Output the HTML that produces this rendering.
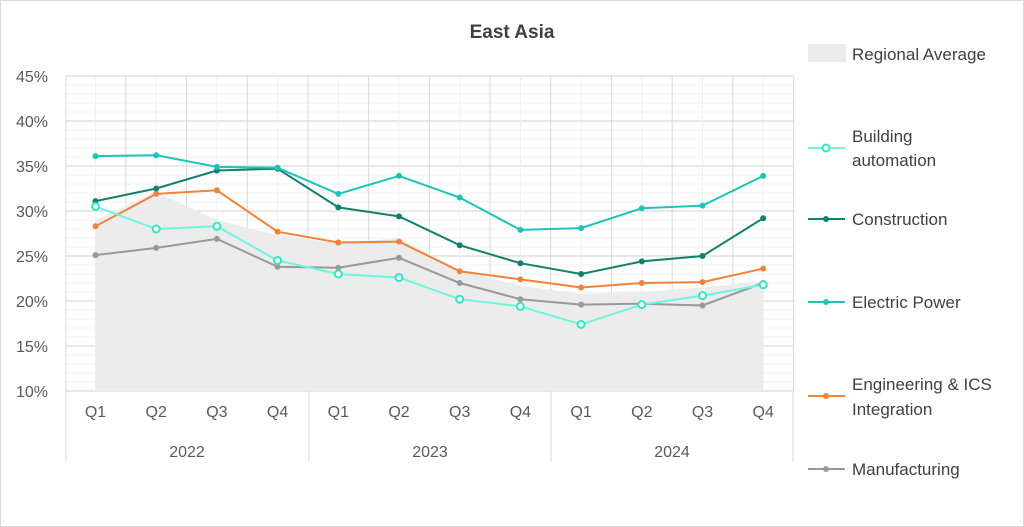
<!DOCTYPE html><html><head><meta charset="utf-8"><style>body{margin:0;background:#fff}svg{display:block;font-family:"Liberation Sans",sans-serif}</style></head><body>
<svg width="1024" height="527" viewBox="0 0 1024 527">
<rect x="0.5" y="0.5" width="1023" height="526" fill="#fff" stroke="#d9d9d9"/>
<text x="512" y="38" text-anchor="middle" font-size="19" font-weight="bold" fill="#404040">East Asia</text>
<g id="grid"></g>
<path id="area" fill="#ececec"/>
<g id="lines"></g>
<g fill="#595959" font-size="16">
<text x="48" y="82" text-anchor="end">45%</text><text x="48" y="127" text-anchor="end">40%</text><text x="48" y="172" text-anchor="end">35%</text><text x="48" y="217" text-anchor="end">30%</text><text x="48" y="262" text-anchor="end">25%</text><text x="48" y="307" text-anchor="end">20%</text><text x="48" y="352" text-anchor="end">15%</text><text x="48" y="397" text-anchor="end">10%</text>
<g id="xl" text-anchor="middle"></g>
<text x="187" y="457" text-anchor="middle">2022</text><text x="430" y="457" text-anchor="middle">2023</text><text x="672" y="457" text-anchor="middle">2024</text>
</g>
<g font-size="17" fill="#404040">
<rect x="808" y="44" width="38" height="18" fill="#ececec"/><text x="852" y="60">Regional Average</text>
<line x1="808" y1="148" x2="845" y2="148" stroke="#6ff5dd" stroke-width="2"/><circle cx="826" cy="148" r="3.5" fill="#fff" stroke="#2ee8c8" stroke-width="2"/><text x="852" y="142">Building</text><text x="852" y="166">automation</text>
<line x1="808" y1="219" x2="845" y2="219" stroke="#12806a" stroke-width="2"/><circle cx="826" cy="219" r="3" fill="#12806a"/><text x="852" y="225">Construction</text>
<line x1="808" y1="302" x2="845" y2="302" stroke="#1ec4b8" stroke-width="2"/><circle cx="826" cy="302" r="3" fill="#1ec4b8"/><text x="852" y="308">Electric Power</text>
<line x1="808" y1="396" x2="845" y2="396" stroke="#f0843a" stroke-width="2"/><circle cx="826" cy="396" r="3" fill="#f0843a"/><text x="852" y="390">Engineering &amp; ICS</text><text x="852" y="415">Integration</text>
<line x1="808" y1="469" x2="845" y2="469" stroke="#999" stroke-width="2"/><circle cx="826" cy="469" r="3" fill="#999"/><text x="852" y="475">Manufacturing</text>
</g>
</svg>
<script>
const ns="http://www.w3.org/2000/svg";
function el(p,t,a){const e=document.createElementNS(ns,t);for(const k in a)e.setAttribute(k,a[k]);document.getElementById(p).appendChild(e);return e;}
const X=i=>95.5+60.7*i, Y=v=>391-(v-10)*9;
for(let v=10;v<=45;v++){el("grid","line",{x1:66,x2:793,y1:Y(v),y2:Y(v),stroke:v%5==0?"#d9d9d9":"#f0f0f0","stroke-width":v%5==0?1.3:1});}
for(let i=0;i<12;i++){el("grid","line",{x1:X(i),x2:X(i),y1:76,y2:391,stroke:"#f0f0f0"});el("grid","line",{x1:X(i)+30.35,x2:X(i)+30.35,y1:76,y2:391,stroke:"#d9d9d9"});}
el("grid","line",{x1:66,x2:66,y1:76,y2:462,stroke:"#d9d9d9"});
[309,551,793].forEach(x=>el("grid","line",{x1:x,x2:x,y1:391,y2:462,stroke:"#d9d9d9"}));
el("grid","line",{x1:66,x2:793,y1:391,y2:391,stroke:"#d9d9d9"});
const q=["Q1","Q2","Q3","Q4"];
for(let i=0;i<12;i++){const t=el("xl","text",{x:X(i),y:417});t.textContent=q[i%4];}
const avg=[29,32.1,29,27.3,26.4,27,23.4,21.7,20.8,21,21.5,22.2];
let d="M"+X(0)+" "+Y(10);avg.forEach((v,i)=>d+=" L"+X(i)+" "+Y(v));d+=" L"+X(11)+" "+Y(10)+"Z";
document.getElementById("area").setAttribute("d",d);
const S=[
["#999",[25.1,25.9,26.9,23.8,23.7,24.8,22,20.2,19.6,19.7,19.5,22],0],
["#f0843a",[28.3,31.9,32.3,27.7,26.5,26.6,23.3,22.4,21.5,22,22.1,23.6],0],
["#12806a",[31.1,32.5,34.5,34.7,30.4,29.4,26.2,24.2,23,24.4,25,29.2],0],
["#1ec4b8",[36.1,36.2,34.9,34.8,31.9,33.9,31.5,27.9,28.1,30.3,30.6,33.9],0],
["#6ff5dd",[30.5,28,28.3,24.5,23,22.6,20.2,19.4,17.4,19.6,20.6,21.8],1]];
S.forEach(([c,v,h])=>{el("lines","polyline",{points:v.map((y,i)=>X(i)+","+Y(y)).join(" "),fill:"none",stroke:c,"stroke-width":2});
v.forEach((y,i)=>h?el("lines","circle",{cx:X(i),cy:Y(y),r:3.5,fill:"#fff",stroke:"#2ee8c8","stroke-width":2}):el("lines","circle",{cx:X(i),cy:Y(y),r:3,fill:c}));});
</script>
</body></html>
